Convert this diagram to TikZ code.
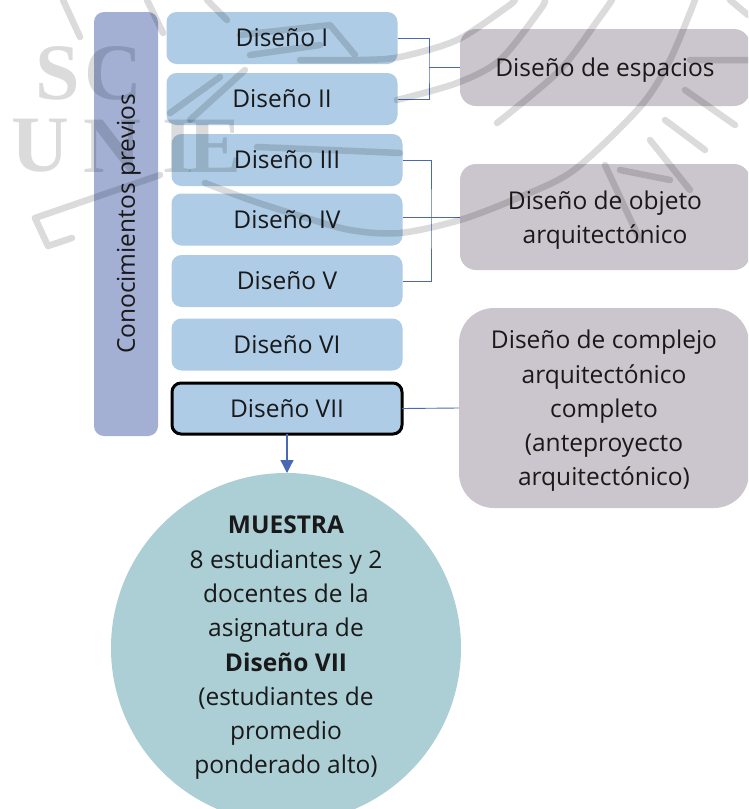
\documentclass[tikz,border=0pt]{standalone}
\usepackage{fontspec}
\setmainfont{Open Sans}
\newfontfamily\wmfont{Liberation Serif}
\usetikzlibrary{arrows.meta}
\definecolor{bluebox}{HTML}{AECCE6}
\definecolor{sidebar}{HTML}{A3B0D4}
\definecolor{greybox}{HTML}{CBC5CD}
\definecolor{tealc}{HTML}{ACCED5}
\definecolor{linkc}{HTML}{4A69B4}
\tikzset{
  base/.style={inner sep=0pt,outer sep=0pt,align=center,text=black!90,font=\fontsize{24.5}{34.3}\selectfont},
  dbox/.style={base,fill=bluebox,rounded corners=10pt,minimum width=231pt,minimum height=52pt},
  gbox/.style={base,fill=greybox,rounded corners=16pt,minimum width=290pt,text depth=0pt},
  link/.style={draw=linkc,line width=0.9pt},
  wm/.style={draw=black,draw opacity=.14,line width=6.5pt,line cap=round,line join=round},
  wmt/.style={text=black,text opacity=.14,font=\wmfont\bfseries\fontsize{80}{80}\selectfont,inner sep=0pt}
}
\begin{document}
\begin{tikzpicture}[x=1pt,y=-1pt]
\useasboundingbox (0,0) rectangle (748,809);
\clip (0,0) rectangle (748,809);
\fill[white] (0,0) rectangle (748,809);
% shapes
\node[base,fill=sidebar,rounded corners=10pt,rotate=90,minimum width=424pt,minimum height=64pt,text depth=0pt] (prev) at (126,224) {Conocimientos previos};
\node[dbox] (d1) at (282,38) {Diseño I};
\node[dbox] (d2) at (282,99) {Diseño II};
\node[dbox] (d3) at (287,160) {Diseño III};
\node[dbox] (d4) at (287,219.5) {Diseño IV};
\node[dbox] (d5) at (287,281) {Diseño V};
\node[dbox] (d6) at (287,344.5) {Diseño VI};
\node[dbox,draw=black,line width=3pt,rounded corners=9pt,minimum width=230pt,minimum height=51pt] (d7) at (287,408.5) {Diseño VII};
\node[gbox,minimum height=77pt] (esp) at (605,67.5) {Diseño de espacios};
\node[gbox,minimum height=106pt] (obj) at (605,217) {Diseño de objeto\\arquitectónico};
\node[gbox,rounded corners=35pt,minimum height=200pt] (comp) at (604,408) {Diseño de complejo\\arquitectónico\\completo\\(anteproyecto\\arquitectónico)};
\node[base,circle,fill=tealc,minimum size=350pt] (m) at (286,648) {\textbf{MUESTRA}\\8 estudiantes y 2\\docentes de la\\asignatura de\\\textbf{Diseño VII}\\(estudiantes de\\promedio\\ponderado alto)};
% connectors
\coordinate (j1) at (429,67.5);
\coordinate (j2) at (431,217);
\draw[link] (d1.east) -| (j1) |- (d2.east);
\draw[link] (j1) -- (esp.west);
\draw[link] (d3.east) -| (j2) |- (d5.east);
\draw[link] (d4.east |- j2) -- (obj.west);
\draw[link] (d7.east) -- (comp.west);
\draw[link,line width=1.2pt,-{Triangle[width=13pt,length=13pt]}] (d7.south) -- (d7.south |- m.north);
% watermark
\node[wmt] (wS) at (58,73) {S};
\node[wmt] (wC) at (113,73) {C};
\node[wmt] (wU) at (40,146) {U};
\node[wmt] (wN) at (112,146) {N};
\node[wmt] (wI) at (178,146) {I};
\node[wmt] (wE) at (215,146) {E};
\draw[wm]
 plot[smooth] coordinates {(205,183) (250,200) (297,215) (350,230) (400,233) (460,220) (520,197) (574,170) (640,107) (670,60) (695,0)}
 plot[smooth] coordinates {(257,147) (330,150) (400,153)}
 plot[smooth] coordinates {(300,60) (360,60) (400,57) (457,40) (507,7) (515,0)}
 plot[smooth] coordinates {(397,100) (457,83) (500,60) (540,10) (545,0)}
 plot[smooth] coordinates {(497,123) (560,70) (600,17) (612,0)}
 (63,0) -- (80,37)
 (147,0) -- (163,33)
 (207,0) -- (227,20)
 (170,113) -- (220,77)
 (190,120) -- (245,70)
 (240,35) -- (330,25) -- (355,55)
 (250,55) -- (320,45)
 (35,218) -- (160,175)
 (35,218) -- (48,246) -- (72,238)
 (690,60) -- (748,60)
 (685,90) -- (735,125)
 (665,120) -- (705,150)
 (650,140) -- (690,190)
 (605,165) -- (640,240)
 (620,170) -- (670,180)
 (748,15) -- (730,0);
\end{tikzpicture}
\end{document}
